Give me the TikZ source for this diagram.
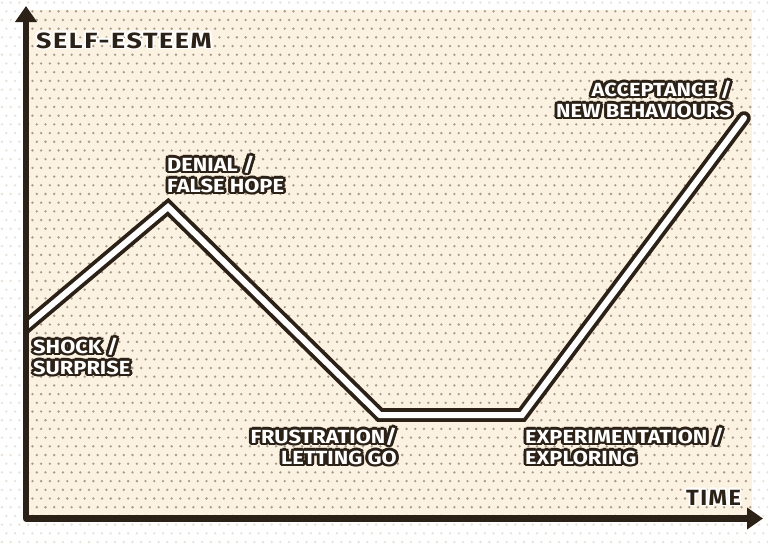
\documentclass[tikz,border=0pt]{standalone}
\usepackage{fontspec}
\usepackage{graphicx}
\setmainfont{Fira Sans}
\usetikzlibrary{arrows.meta,patterns}
\definecolor{dk}{HTML}{2B2116}
\definecolor{cream}{HTML}{FCF2E2}
\definecolor{dotc}{HTML}{A89A8A}
\definecolor{dotl}{HTML}{E8E2DA}
\pgfdeclarepatternformonly{halftone}{\pgfqpoint{-1.5pt}{-1.5pt}}{\pgfqpoint{10pt}{18.7pt}}{\pgfqpoint{8.7pt}{17.4pt}}{%
  \pgfpathcircle{\pgfqpoint{2pt}{2pt}}{1.3pt}%
  \pgfpathcircle{\pgfqpoint{6.35pt}{10.7pt}}{1.3pt}%
  \pgfusepath{fill}}
% outlined text: #1 outline colour, #2 fill colour, #3 radius (pt), #4 horizontal scale, #5 text
\newcommand\olin[5]{\leavevmode\scalebox{#4}[1]{\rlap{\color{#1}\foreach \a in {0,30,...,330}{\pgfmathsetmacro\dx{#3*cos(\a)}\pgfmathsetmacro\dy{#3*sin(\a)}\rlap{\hspace*{\dx pt}\raisebox{\dy pt}{#5}}}}\textcolor{#2}{#5}}}
\newcommand\wl[1]{\olin{dk}{white}{2.5}{1.15}{#1}}
\newcommand\dl[2]{\olin{white}{dk}{1.6}{#1}{#2}}
\tikzset{
  lab/.style={inner sep=0pt, font=\fontsize{19}{21}\selectfont\bfseries},
  ttl/.style={inner sep=0pt, font=\fontsize{22}{24}\selectfont\bfseries\addfontfeatures{LetterSpace=6}},
  axis/.style={draw=dk, line width=6.5pt, line join=round,
    {Triangle[length=16pt,width=21pt]}-{Triangle[length=16pt,width=21pt]}},
  curve/.style={draw=dk, double=white, double distance=6pt, line width=3.8pt, line join=miter, line cap=round}
}
\begin{document}
\begin{tikzpicture}[x=1pt,y=-1pt]
\useasboundingbox (0,0) rectangle (768,544);
% background
\fill[white] (0,0) rectangle (768,544);
\fill[pattern=halftone, pattern color=dotl] (0,0) rectangle (768,544);
\fill[cream] (28,10) rectangle (752,520);
\fill[pattern=halftone, pattern color=dotc] (28,10) rectangle (752,520);
% curve
\coordinate (s) at (22,330);
\coordinate (p1) at (168,207);
\coordinate (p2) at (380,415);
\coordinate (p3) at (522,415);
\coordinate (e) at (744,118);
\begin{scope}
\clip (26,0) rectangle (768,544);
\draw[curve] (s) -- (p1) -- (p2) -- (p3) -- (e);
\end{scope}
% axes
\coordinate (ytip) at (26,6);
\coordinate (orig) at (26,518.5);
\coordinate (xtip) at (763,518.5);
\draw[axis] (ytip) -- (orig) -- (xtip);
% labels
\node[ttl, anchor=base west] (ylab) at (36,48) {\dl{1.22}{SELF-ESTEEM}};
\node[ttl, anchor=base west] (xlab) at (686,505) {\dl{1.07}{TIME}};
\node[lab, anchor=north west, align=left] (l1) at (33,335) {\wl{SHOCK /}\\\wl{SURPRISE}};
\node[lab, anchor=north west, align=left] (l2) at (167,153) {\wl{DENIAL /}\\\wl{FALSE HOPE}};
\node[lab, anchor=north east, align=right] (l3) at (397,425) {\wl{FRUSTRATION/}\\\wl{LETTING GO}};
\node[lab, anchor=north west, align=left] (l4) at (525,425) {\wl{EXPERIMENTATION /}\\\wl{EXPLORING}};
\node[lab, anchor=north east, align=right] (l5) at (732,78) {\wl{ACCEPTANCE /}\\\wl{NEW BEHAVIOURS}};
\end{tikzpicture}
\end{document}
